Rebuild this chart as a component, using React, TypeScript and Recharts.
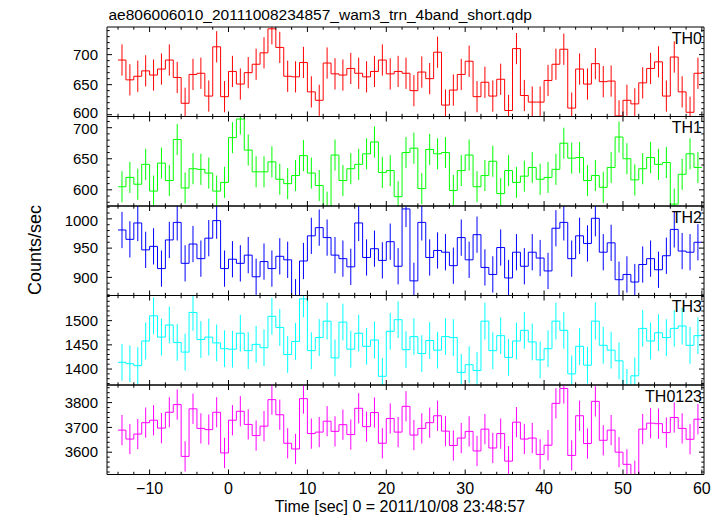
import React from 'react';
import { ComposedChart, Line, XAxis, YAxis, ErrorBar, ReferenceArea } from 'recharts';

// light curve, 1 s bins starting at t = -14 s
const BIN_START = -14;
const BIN_WIDTH = 1;

const th0 = [
  691, 658, 664, 673, 666, 676, 691, 662, 619, 667,
  669, 631, 713, 630, 672, 651, 670, 684, 703, 743,
  712, 664, 663, 687, 638, 624, 686, 668, 666, 677,
  669, 663, 672, 691, 668, 672, 669, 640, 671, 660,
  704, 616, 641, 667, 689, 630, 654, 631, 659, 607,
  710, 632, 621, 621, 657, 684, 709, 611, 676, 651,
  685, 655, 656, 598, 624, 618, 653, 677, 688, 631,
  696, 638, 604, 669,
];
const th1 = [
  605, 620, 609, 641, 598, 643, 615, 681, 603, 634,
  633, 627, 598, 612, 684, 714, 664, 629, 629, 645,
  617, 610, 623, 655, 627, 607, 572, 656, 615, 634,
  641, 658, 677, 628, 631, 589, 660, 667, 602, 665,
  658, 660, 599, 631, 656, 605, 623, 646, 594, 631,
  612, 622, 636, 617, 620, 633, 675, 651, 652, 615,
  623, 604, 636, 685, 650, 616, 634, 652, 641, 644,
  577, 625, 658, 636,
];
const th2 = [
  981, 965, 993, 947, 953, 915, 964, 994, 924, 957,
  932, 967, 997, 915, 931, 924, 938, 901, 927, 915,
  936, 930, 866, 928, 971, 985, 968, 938, 932, 918,
  993, 934, 949, 929, 961, 919, 1017, 894, 994, 934,
  946, 943, 920, 968, 930, 973, 917, 905, 951, 899,
  943, 919, 943, 933, 911, 984, 994, 932, 971, 958,
  1001, 943, 959, 896, 905, 892, 922, 932, 913, 937,
  982, 945, 943, 960,
];
const th3 = [
  1414, 1411, 1407, 1458, 1510, 1466, 1491, 1455, 1435, 1517,
  1461, 1466, 1454, 1442, 1441, 1474, 1438, 1451, 1444, 1509,
  1486, 1430, 1457, 1545, 1438, 1465, 1499, 1423, 1497, 1441,
  1474, 1447, 1460, 1385, 1478, 1502, 1440, 1467, 1432, 1459,
  1439, 1467, 1465, 1393, 1409, 1397, 1499, 1438, 1469, 1424,
  1458, 1480, 1456, 1419, 1442, 1499, 1480, 1390, 1447, 1408,
  1499, 1449, 1439, 1417, 1362, 1386, 1484, 1458, 1475, 1465,
  1484, 1489, 1449, 1469,
];
const th0123 = [
  3689, 3653, 3673, 3719, 3729, 3697, 3761, 3792, 3583, 3775,
  3696, 3691, 3761, 3597, 3729, 3765, 3712, 3667, 3705, 3812,
  3751, 3636, 3613, 3816, 3675, 3681, 3725, 3684, 3711, 3671,
  3777, 3703, 3760, 3636, 3736, 3681, 3785, 3669, 3696, 3719,
  3747, 3685, 3627, 3657, 3684, 3605, 3693, 3617, 3675, 3564,
  3721, 3653, 3657, 3591, 3628, 3797, 3857, 3587, 3747, 3635,
  3805, 3648, 3689, 3600, 3551, 3505, 3693, 3717, 3715, 3679,
  3740, 3696, 3652, 3733,
];

const SERIES = [th0, th1, th2, th3, th0123];
const NAMES = ['TH0', 'TH1', 'TH2', 'TH3', 'TH0123'];
const COLORS = ['#ff0000', '#00ff00', '#0000ff', '#00ffff', '#ff00ff'];
const ERRORS = [26, 25, 31, 38, 61]; // typical 1-sigma half length per band

const Y_MAJOR = [
  [600, 650, 700],
  [600, 650, 700],
  [900, 950, 1000],
  [1400, 1450, 1500],
  [3600, 3700, 3800],
];
const X_MAJOR = [-10, 0, 10, 20, 30, 40, 50, 60];

// layout
const W = 723;
const H = 516;
const PLOT_LEFT = 107;
const PLOT_RIGHT = 704;
const PLOT_W = PLOT_RIGHT - PLOT_LEFT;
const TOP = 27;
const PANEL_H = 89.5;
const X_DOMAIN: [number, number] = [-15.4, 60.27];
const Y_DOMAINS: [number, number][] = [
  [597, 746],
  [574, 718],
  [869, 1022],
  [1367, 1552],
  [3510, 3871],
];
const Y_MINOR_STEP = [10, 10, 10, 10, 20];
const FONT = '"Liberation Sans", Arial, Helvetica, sans-serif';

const range = (a: number, b: number, step: number) => {
  const out: number[] = [];
  for (let v = a; v <= b + 1e-9; v += step) out.push(v);
  return out;
};

const xTicks = range(-14, 60, 2);

const makeRows = (vals: number[], err: number) => {
  const rows = vals.map((v, i) => ({ t: BIN_START + (i + 0.5) * BIN_WIDTH, v, e: err }));
  const end = BIN_START + vals.length * BIN_WIDTH;
  return [{ t: BIN_START, v: vals[0], e: 0 }, ...rows, { t: end, v: vals[vals.length - 1], e: 0 }];
};

const fmt = (v: number) => (v < 0 ? '\u2212' + Math.abs(v) : String(v));

const Panel = ({ idx }: { idx: number }) => {
  const top = TOP + idx * PANEL_H;
  const bottom = H - (top + PANEL_H);
  const right = W - PLOT_RIGHT;
  const color = COLORS[idx];
  const dom = Y_DOMAINS[idx];
  const major = Y_MAJOR[idx];
  const step = Y_MINOR_STEP[idx];
  const yTicks = range(Math.ceil(dom[0] / step) * step, dom[1], step);
  const rows = makeRows(SERIES[idx], ERRORS[idx]);
  const isLast = idx === SERIES.length - 1;

  const renderXTick = (p: any) => {
    const { x, y, payload } = p;
    const isMajor = X_MAJOR.includes(payload.value);
    const len = isMajor ? 5 : 2.7;
    return (
      <g>
        <line x1={x} y1={y} x2={x} y2={y - len} stroke="#000" strokeWidth={1} />
        <line x1={x} y1={y - PANEL_H} x2={x} y2={y - PANEL_H + len} stroke="#000" strokeWidth={1} />
        {isLast && isMajor && (
          <text x={x} y={y + 19.5} textAnchor="middle" fontSize={16} fontFamily={FONT} fill="#000">
            {fmt(payload.value)}
          </text>
        )}
      </g>
    );
  };

  const renderYTick = (p: any) => {
    const { x, y, payload } = p;
    const isMajor = major.includes(payload.value);
    const len = isMajor ? 5 : 2.7;
    // labels sitting right on a shared panel edge are nudged apart a little
    let dy = 5.2;
    if (isMajor && y > top + PANEL_H - 6) dy -= 2;
    if (isMajor && y < top + 14 && idx > 0) dy += 1.5;
    return (
      <g>
        <line x1={x} y1={y} x2={x + len} y2={y} stroke="#000" strokeWidth={1} />
        <line x1={x + PLOT_W} y1={y} x2={x + PLOT_W - len} y2={y} stroke="#000" strokeWidth={1} />
        {isMajor && (
          <text x={x - 9} y={y + dy} textAnchor="end" fontSize={15} fontFamily={FONT} fill="#000">
            {payload.value}
          </text>
        )}
      </g>
    );
  };

  return (
    <>
      {/* data layer, clipped to the panel box */}
      <div
        style={{
          position: 'absolute',
          left: 0,
          top: 0,
          clipPath: `inset(${top}px ${right}px ${bottom}px ${PLOT_LEFT}px)`,
        }}
      >
        <ComposedChart width={W} height={H} data={rows} margin={{ top, right, bottom, left: PLOT_LEFT }}>
          <XAxis dataKey="t" type="number" domain={X_DOMAIN} allowDataOverflow hide />
          <YAxis type="number" domain={dom} allowDataOverflow hide />
          <Line
            type="step"
            dataKey="v"
            stroke={color}
            strokeWidth={1}
            dot={false}
            activeDot={false}
            isAnimationActive={false}
          >
            <ErrorBar dataKey="e" width={0} stroke={color} strokeWidth={1} isAnimationActive={false} />
          </Line>
        </ComposedChart>
      </div>
      {/* frame, ticks and labels */}
      <div style={{ position: 'absolute', left: 0, top: 0 }}>
        <ComposedChart width={W} height={H} data={rows} margin={{ top, right, bottom: bottom - 1, left: PLOT_LEFT - 1 }}>
          <XAxis
            dataKey="t"
            type="number"
            domain={X_DOMAIN}
            allowDataOverflow
            ticks={xTicks}
            interval={0}
            height={1}
            tickSize={0}
            tickMargin={0}
            axisLine={false}
            tickLine={false}
            tick={renderXTick}
          />
          <YAxis
            type="number"
            domain={dom}
            allowDataOverflow
            ticks={yTicks}
            interval={0}
            width={1}
            tickSize={0}
            tickMargin={0}
            axisLine={false}
            tickLine={false}
            tick={renderYTick}
          />
          <ReferenceArea
            x1={X_DOMAIN[0]}
            x2={X_DOMAIN[1]}
            y1={dom[0]}
            y2={dom[1]}
            fill="none"
            stroke="#000"
            strokeWidth={1}
            ifOverflow="visible"
          />
        </ComposedChart>
      </div>
    </>
  );
};

const App: React.FC = () => {
  return (
    <div style={{ position: 'absolute', left: 0, top: 0, width: W, height: H, background: '#fff', fontFamily: FONT }}>
      {SERIES.map((_, i) => (
        <Panel key={NAMES[i]} idx={i} />
      ))}
      <svg width={W} height={H} style={{ position: 'absolute', left: 0, top: 0, pointerEvents: 'none' }}>
        <text x={108.5} y={20} fontSize={15.5} fontFamily={FONT} fill="#000">
          ae806006010_20111008234857_wam3_trn_4band_short.qdp
        </text>
        {NAMES.map((n, i) => (
          <text key={n} x={702} y={TOP + i * PANEL_H + 16.5} textAnchor="end" fontSize={16} fontFamily={FONT} fill="#000">
            {n}
          </text>
        ))}
        <text x={400} y={511.5} textAnchor="middle" fontSize={16} fontFamily={FONT} fill="#000">
          Time [sec] 0 = 2011/10/08 23:48:57
        </text>
        <text x={41} y={250} textAnchor="middle" fontSize={18} fontFamily={FONT} fill="#000" transform="rotate(-90 41 250)">
          Counts/sec
        </text>
      </svg>
    </div>
  );
};

export default App;
